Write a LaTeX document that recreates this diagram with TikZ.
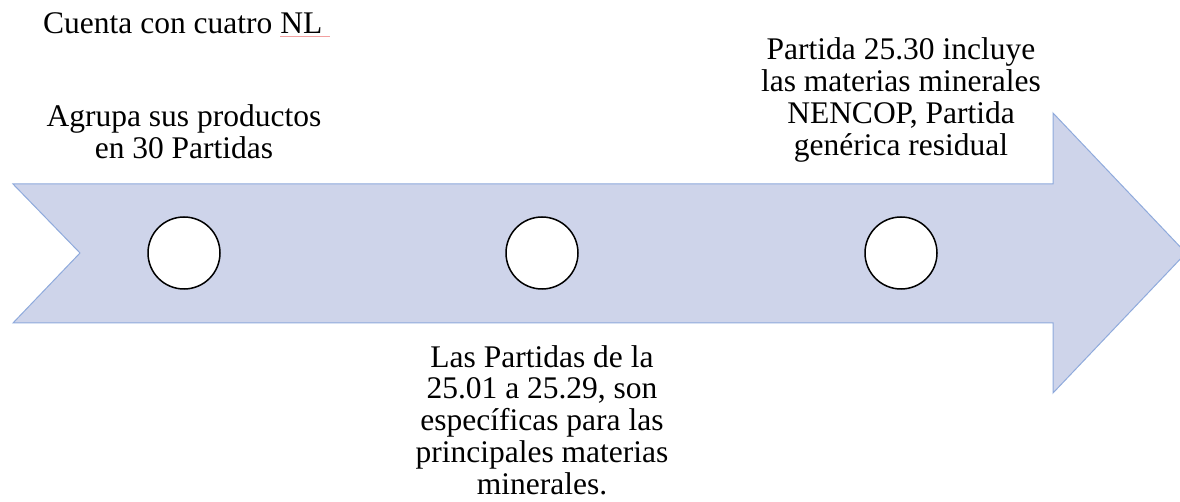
\documentclass[tikz,border=0pt]{standalone}
\usepackage{fontspec}
\setmainfont{Liberation Serif}
\definecolor{arrowfill}{HTML}{CED4EA}
\definecolor{arrowline}{HTML}{8FAADC}
\definecolor{spellred}{HTML}{F2A0A0}
\tikzset{
  lbl/.style={anchor=base, inner sep=0pt, font=\fontsize{31.5}{31.8}\selectfont},
  dot/.style={circle, draw=black, line width=1.5pt, fill=white, minimum size=72pt, inner sep=0pt},
}
\newcommand{\ctext}[1]{\parbox[t]{360pt}{\centering #1}}
\begin{document}
\begin{tikzpicture}[x=1pt,y=-1pt]
\useasboundingbox (0,0) rectangle (1180,502);
\draw[arrowline, fill=arrowfill, line width=1pt, line join=miter]
  (13,184) -- (1053,184) -- (1053,113) -- (1186,253) -- (1053,393) -- (1053,323)
  -- (13,323) -- (80,253) -- cycle;
\node[dot] (c1) at (184,253) {};
\node[dot] (c2) at (542,253) {};
\node[dot] (c3) at (901,253) {};
\node[lbl, anchor=base west] (t0) at (43,34) {Cuenta con cuatro NL};
\draw[spellred, line width=0.8pt] (t0.base east) ++(-42,2) -- ++(50,0);
\node[lbl] (t1) at (184,127) {\ctext{Agrupa sus productos\\en 30 Partidas}};
\node[lbl] (t2) at (542,367) {\ctext{Las Partidas de la\\25.01 a 25.29, son\\específicas para las\\principales materias\\minerales.}};
\node[lbl] (t3) at (901,60) {\ctext{Partida 25.30 incluye\\las materias minerales\\NENCOP, Partida\\genérica residual}};
\end{tikzpicture}
\end{document}
